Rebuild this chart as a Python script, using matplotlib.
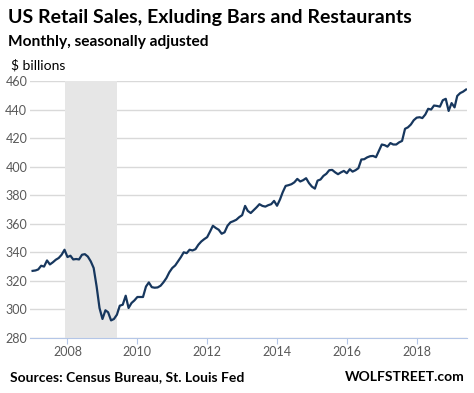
import matplotlib.pyplot as plt
import pandas as pd

# monthly retail sales ex bars & restaurants, $ billions
sales = [
    327, 327.3, 328, 330.6, 330, 334.3, 331.5, 333, 334.8, 336, 338.3, 341.8,
    336.7, 337.6, 335, 335.3, 335, 338.3, 338.7, 337, 333.6, 329, 316, 301,
    293.3, 299.4, 298, 292.3, 293.3, 296.3, 302.6, 303.3, 309.6, 301, 304.5, 306.3,
    308.7, 308.7, 308.7, 316, 318.9, 315.6, 315.2, 315.4, 316.6, 319, 322, 326,
    329, 330.8, 333.6, 336.6, 340, 339.4, 341.8, 341.3, 342.2, 345.3, 347.6, 349.2,
    350.6, 354.6, 358.6, 357, 355.8, 353, 354, 358.6, 361, 361.8, 362.8, 364.6,
    366, 372.5, 369, 367.5, 369.5, 371.5, 373.7, 372.5, 372, 373, 373.7, 376,
    372.6, 377, 382, 386.5, 387, 387.7, 389, 391.4, 389.6, 390.5, 391.9, 388.5,
    386, 384.6, 390.2, 391, 393.5, 395, 397.5, 397.7, 396, 394.7, 396, 397,
    395.4, 398.2, 396.5, 397.5, 398.9, 405, 405.2, 406.5, 407.3, 407.5, 406.6, 411,
    415.5, 415, 414, 416.5, 415.5, 415.5, 417, 418, 426.5, 427.5, 429.5, 432.5,
    434.3, 434.6, 434, 436.5, 440.5, 440, 442.8, 442.5, 442, 446.5, 447.5, 439,
    444.5, 441.5, 449.5, 451.5, 452.5, 454,
]
dates = pd.date_range('2007-01-01', periods=len(sales), freq='MS')
recession = ('2007-12-01', '2009-06-01')
yticks = list(range(280, 461, 20))
xtick_years = [2008, 2010, 2012, 2014, 2016, 2018]

plt.rcParams['font.family'] = ['Lato', 'DejaVu Sans']
fig = plt.figure(figsize=(4.74, 3.93), dpi=100)
ax = fig.add_axes([0.0633, 0.14, 0.9217, 0.654])

ax.axvspan(pd.Timestamp(recession[0]), pd.Timestamp(recession[1]),
           color='#e6e6e6', lw=0, zorder=1)
ax.plot(dates, sales, color='#17375e', lw=1.6, zorder=3)

ax.set_ylim(280, 460)
ax.set_yticks(yticks)
ax.set_xlim(pd.Timestamp('2006-12-05'), pd.Timestamp('2019-06-10'))
ax.set_xticks([pd.Timestamp(f'{y}-01-01') for y in xtick_years])
ax.set_xticklabels([str(y) for y in xtick_years])

ax.grid(axis='y', color='#d9d9d9', lw=1, zorder=0)
ax.set_axisbelow(True)
for s in ['top', 'right', 'left']:
    ax.spines[s].set_visible(False)
ax.spines['bottom'].set_color('#b4c6e7')
ax.tick_params(axis='y', length=0, pad=2, labelsize=9, labelcolor='#595959')
ax.tick_params(axis='x', length=4, color='#b4c6e7', pad=2, labelsize=9,
               labelcolor='#595959')

fig.text(0.017, 0.955, 'US Retail Sales, Exluding Bars and Restaurants',
         fontsize=14, fontweight='bold', va='center')
fig.text(0.017, 0.893, 'Monthly, seasonally adjusted',
         fontsize=11.2, fontweight='bold', va='center')
fig.text(0.023, 0.835, '$ billions', fontsize=10, va='center')
fig.text(0.021, 0.041, 'Sources: Census Bureau, St. Louis Fed',
         fontsize=10, fontweight='bold', va='center')
fig.text(0.98, 0.041, 'WOLFSTREET.com', fontsize=10, fontweight='bold',
         va='center', ha='right')

fig.savefig('out.png', dpi=100)
